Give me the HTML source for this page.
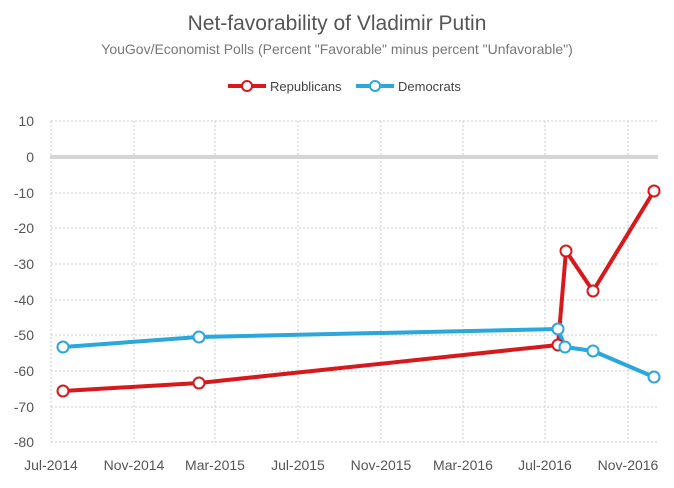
<!DOCTYPE html><html><head><style>body{margin:0;background:#fff}svg{display:block}text{font-family:"Liberation Sans",sans-serif}</style></head><body>
<svg width="674" height="488" xmlns="http://www.w3.org/2000/svg">
<text x="337" y="30" text-anchor="middle" font-size="21" fill="#555">Net-favorability of Vladimir Putin</text>
<text x="337" y="54" text-anchor="middle" font-size="14" fill="#777">YouGov/Economist Polls (Percent "Favorable" minus percent "Unfavorable")</text>
<line x1="228" y1="86" x2="266" y2="86" stroke="#d7191c" stroke-width="4"/><circle cx="247" cy="86" r="5" fill="#fff" stroke="#d7191c" stroke-width="2"/>
<text x="270" y="91" font-size="13" fill="#444">Republicans</text>
<line x1="356" y1="86" x2="394" y2="86" stroke="#2aa7dd" stroke-width="4"/><circle cx="375" cy="86" r="5" fill="#fff" stroke="#2aa7dd" stroke-width="2"/>
<text x="398" y="91" font-size="13" fill="#444">Democrats</text>
<g stroke="#ccc" stroke-dasharray="2,2" stroke-width="1">
<line x1="51" y1="121" x2="658" y2="121"/><line x1="51" y1="193" x2="658" y2="193"/><line x1="51" y1="228" x2="658" y2="228"/><line x1="51" y1="264" x2="658" y2="264"/><line x1="51" y1="300" x2="658" y2="300"/><line x1="51" y1="335" x2="658" y2="335"/><line x1="51" y1="371" x2="658" y2="371"/><line x1="51" y1="407" x2="658" y2="407"/><line x1="51" y1="442" x2="658" y2="442"/>
<line x1="51" y1="121" x2="51" y2="442"/><line x1="134" y1="121" x2="134" y2="442"/><line x1="215" y1="121" x2="215" y2="442"/><line x1="298" y1="121" x2="298" y2="442"/><line x1="381" y1="121" x2="381" y2="442"/><line x1="463" y1="121" x2="463" y2="442"/><line x1="545" y1="121" x2="545" y2="442"/><line x1="628" y1="121" x2="628" y2="442"/>
</g>
<line x1="50" y1="157" x2="658" y2="157" stroke="#d5d5d5" stroke-width="4"/>
<g font-size="14" fill="#555" text-anchor="end">
<text x="34" y="126">10</text><text x="34" y="162">0</text><text x="34" y="198">-10</text><text x="34" y="233">-20</text><text x="34" y="269">-30</text><text x="34" y="305">-40</text><text x="34" y="340">-50</text><text x="34" y="376">-60</text><text x="34" y="412">-70</text><text x="34" y="447">-80</text></g>
<g font-size="14" fill="#555" text-anchor="middle">
<text x="51" y="470">Jul-2014</text><text x="134" y="470">Nov-2014</text><text x="215" y="470">Mar-2015</text><text x="298" y="470">Jul-2015</text><text x="381" y="470">Nov-2015</text><text x="463" y="470">Mar-2016</text><text x="545" y="470">Jul-2016</text><text x="628" y="470">Nov-2016</text></g>
<g fill="#fff" stroke-width="4">
<polyline points="63,391 199,383 558,345 566,251 593,291 654,191" fill="none" stroke="#d7191c"/>
<polyline points="63,347 199,337 558,329 565,347 593,351 654,377" fill="none" stroke="#2aa7dd"/>
<g stroke="#d7191c" stroke-width="2"><circle cx="63" cy="391" r="5.5"/><circle cx="199" cy="383" r="5.5"/><circle cx="558" cy="345" r="5.5"/><circle cx="566" cy="251" r="5.5"/><circle cx="593" cy="291" r="5.5"/><circle cx="654" cy="191" r="5.5"/></g>
<g stroke="#2aa7dd" stroke-width="2"><circle cx="63" cy="347" r="5.5"/><circle cx="199" cy="337" r="5.5"/><circle cx="558" cy="329" r="5.5"/><circle cx="565" cy="347" r="5.5"/><circle cx="593" cy="351" r="5.5"/><circle cx="654" cy="377" r="5.5"/></g>
</g>
</svg></body></html>
